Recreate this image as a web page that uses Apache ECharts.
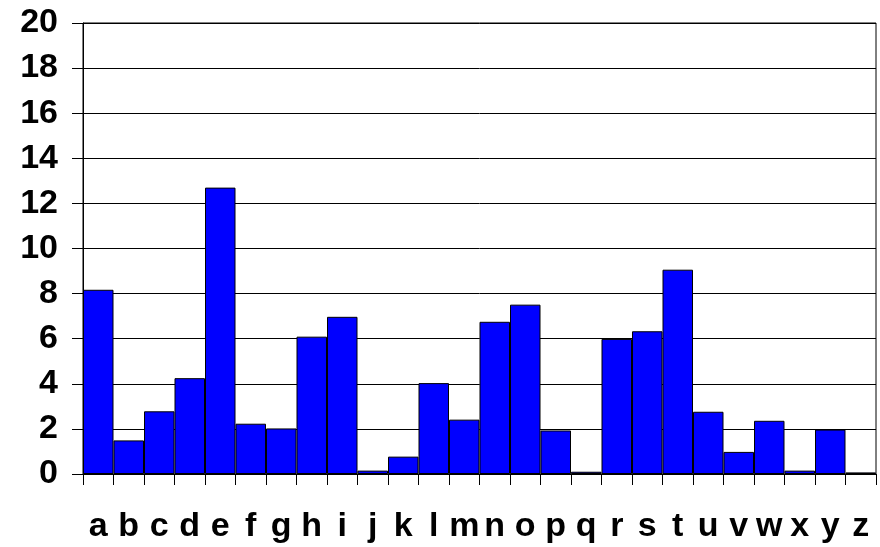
<!DOCTYPE html>
<html>
<head>
<meta charset="utf-8">
<script src="https://cdn.jsdelivr.net/npm/echarts@6/dist/echarts.min.js"></script>
<style>
  html, body { margin: 0; padding: 0; background: #fff; }
  #chart { width: 880px; height: 547px; }
</style>
</head>
<body>
<div id="chart"></div>
<script>
// letter frequencies (percent)
const letters = ['a', 'b', 'c', 'd', 'e', 'f', 'g', 'h', 'i', 'j', 'k', 'l', 'm',
    'n', 'o', 'p', 'q', 'r', 's', 't', 'u', 'v', 'w', 'x', 'y', 'z'];
const frequency = [8.17, 1.49, 2.78, 4.25, 12.70, 2.23, 2.02, 6.09, 6.97, 0.15, 0.77, 4.03, 2.41,
    6.75, 7.51, 1.93, 0.10, 5.99, 6.33, 9.06, 2.76, 0.98, 2.36, 0.15, 1.97, 0.07];
const yTicks = [0, 2, 4, 6, 8, 10, 12, 14, 16, 18, 20];

const chart = echarts.init(document.getElementById('chart'));
const fontFamily = '"Liberation Sans", Arial, sans-serif';

chart.setOption({
    animation: false,
    grid: {
        left: 83,
        right: 4,
        top: 23,
        bottom: 73,
        show: true,
        borderColor: '#000',
        borderWidth: 1
    },
    xAxis: {
        type: 'category',
        data: letters,
        axisLine: { lineStyle: { color: '#000', width: 1 } },
        axisTick: { show: true, length: 11, interval: 0, lineStyle: { color: '#000' } },
        axisLabel: {
            interval: 0,
            margin: 36,
            color: '#000',
            fontSize: 34,
            fontWeight: 'bold',
            fontFamily: fontFamily
        }
    },
    yAxis: {
        type: 'value',
        min: yTicks[0],
        max: yTicks[yTicks.length - 1],
        interval: 2,
        axisLine: { show: true, lineStyle: { color: '#000', width: 1 } },
        axisTick: { show: true, length: 11, lineStyle: { color: '#000' } },
        splitLine: { show: true, lineStyle: { color: '#000', width: 1 } },
        axisLabel: {
            margin: 25,
            color: '#000',
            fontSize: 34,
            fontWeight: 'bold',
            fontFamily: fontFamily
        }
    },
    series: [{
        type: 'bar',
        data: frequency,
        barCategoryGap: 0,
        itemStyle: {
            color: '#0000ff',
            borderColor: '#000',
            borderWidth: 1
        }
    }]
});
</script>
</body>
</html>
